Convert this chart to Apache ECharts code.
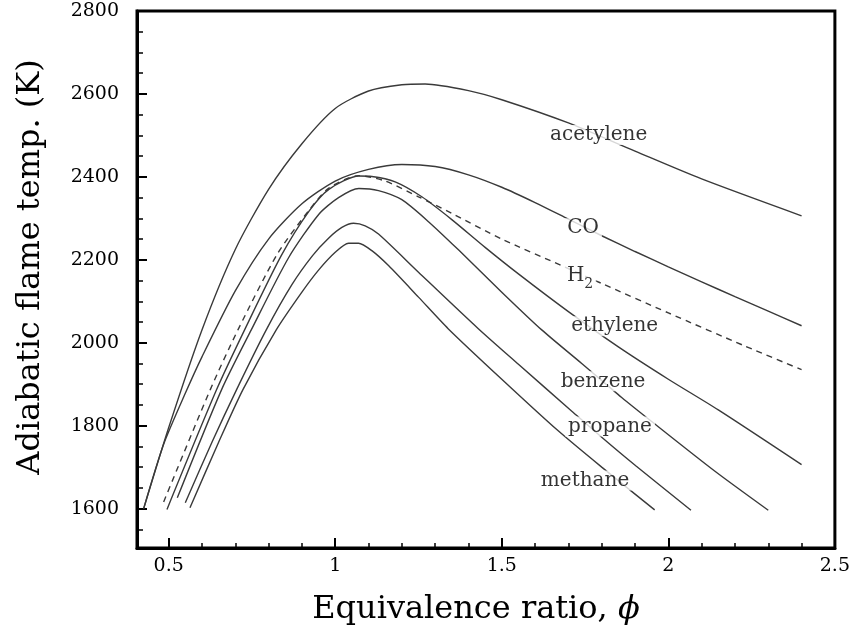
<!DOCTYPE html>
<html>
<head>
<meta charset="utf-8">
<script src="https://cdn.jsdelivr.net/npm/echarts@6/dist/echarts.min.js"></script>
<style>html,body{margin:0;padding:0;background:#fff;}#c{width:853px;height:633px;}</style>
</head>
<body>
<div id="c"></div>
<script>
// ---- data (equivalence ratio phi, adiabatic flame temperature K) ----
const acetylenePhi = [0.425, 0.5, 0.6, 0.7, 0.8, 0.9, 1.0, 1.1, 1.2, 1.27, 1.4, 1.5, 1.7, 1.9, 2.1, 2.4];
const acetyleneT   = [1600, 1795, 2031, 2225, 2370, 2480, 2565, 2607, 2622, 2624, 2608, 2586, 2530, 2462, 2395, 2306];

const coPhi = [0.425, 0.485, 0.55, 0.6, 0.7, 0.8, 0.9, 1.0, 1.1, 1.2, 1.3, 1.4, 1.5, 1.6, 1.7, 1.8, 1.9, 2.0, 2.1, 2.2, 2.3, 2.4];
const coT   = [1600, 1755, 1878, 1966, 2125, 2250, 2335, 2390, 2418, 2430, 2425, 2405, 2375, 2338, 2298, 2258, 2220, 2183, 2147, 2111, 2076, 2041];

const h2Phi = [0.485, 0.625, 0.708, 0.827, 0.922, 0.981, 1.070, 1.150, 1.250, 1.350, 1.500, 1.680, 1.800, 2.000, 2.230, 2.400];
const h2T   = [1616, 1887, 2031, 2215, 2320, 2373, 2403, 2390, 2352, 2312, 2250, 2186, 2143, 2072, 1992, 1935];

const ethylenePhi = [0.495, 0.644, 0.728, 0.838, 0.922, 0.981, 1.071, 1.110, 1.180, 1.260, 1.350, 1.450, 1.550, 1.700, 1.850, 2.000, 2.150, 2.400];
const ethyleneT   = [1598, 1887, 2031, 2210, 2318, 2370, 2402, 2401, 2388, 2352, 2297, 2230, 2166, 2075, 1990, 1912, 1838, 1706];

const benzenePhi = [0.526, 0.659, 0.748, 0.860, 0.951, 1.010, 1.071, 1.130, 1.200, 1.280, 1.370, 1.500, 1.620, 1.740, 1.860, 1.950, 2.140, 2.300];
const benzeneT   = [1626, 1887, 2031, 2205, 2310, 2350, 2372, 2367, 2345, 2292, 2224, 2122, 2031, 1950, 1868, 1810, 1690, 1596];

const propanePhi = [0.550, 0.630, 0.704, 0.793, 0.870, 0.932, 0.980, 1.020, 1.055, 1.090, 1.130, 1.250, 1.428, 1.550, 1.706, 1.800, 1.904, 2.068];
const propaneT   = [1614, 1760, 1887, 2031, 2140, 2210, 2252, 2278, 2288, 2282, 2262, 2170, 2035, 1948, 1838, 1772, 1702, 1596];

const methanePhi = [0.564, 0.650, 0.723, 0.823, 0.900, 0.950, 1.000, 1.040, 1.070, 1.110, 1.160, 1.250, 1.339, 1.500, 1.666, 1.800, 1.959];
const methaneT   = [1602, 1760, 1887, 2031, 2122, 2175, 2218, 2240, 2240, 2222, 2186, 2110, 2034, 1912, 1790, 1700, 1597];

const curveNames = ['acetylene', 'CO', 'H2', 'ethylene', 'benzene', 'propane', 'methane'];

// ---- axis ticks ----
const xMajorTicks = [0.5, 1, 1.5, 2, 2.5];
const xMinorTicks = [0.5, 0.6, 0.7, 0.8, 0.9, 1.0, 1.1, 1.2, 1.3, 1.4, 1.5, 1.6, 1.7, 1.8, 1.9, 2.0, 2.1, 2.2, 2.3, 2.4, 2.5];
const yMajorTicks = [1600, 1800, 2000, 2200, 2400, 2600, 2800];
const yMinorTicks = [1550, 1600, 1650, 1700, 1750, 1800, 1850, 1900, 1950, 2000, 2050, 2100, 2150, 2200, 2250, 2300, 2350, 2400, 2450, 2500, 2550, 2600, 2650, 2700, 2750, 2800];

// ---- layout: label anchors (data coordinates) ----
const labelAnchors = {
  acetylene: [1.791, 2501],
  CO: [1.744, 2276],
  H2: [1.735, 2140],
  ethylene: [1.839, 2040],
  benzene: [1.804, 1907],
  propane: [1.825, 1798],
  methane: [1.750, 1668]
};

const zip = (xs, ys) => xs.map((x, i) => [x, ys[i]]);
const FONT = '"DejaVu Serif", "Liberation Serif", serif';
const LINE = '#3a3a3a';
const TEXT = '#000';

function curve(name, xs, ys, dashed) {
  return {
    name: name, type: 'line', data: zip(xs, ys),
    showSymbol: false, smooth: 0.25,
    lineStyle: { color: LINE, width: 1.4, type: dashed ? [6, 5] : 'solid' },
    silent: true, z: 2
  };
}

const labelData = curveNames.map(n => ({ name: n, value: labelAnchors[n] }));

const option = {
  animation: false,
  backgroundColor: '#fff',
  grid: { left: 137, right: 13, top: 11, bottom: 85, show: true, borderColor: '#000', borderWidth: 3, backgroundColor: 'transparent' },
  xAxis: [{
    type: 'value', min: 0.405, max: 2.5,
    axisLine: { show: true, lineStyle: { color: '#000', width: 3 } },
    axisTick: { show: true, inside: true, length: 10, customValues: xMajorTicks, lineStyle: { color: '#000', width: 2 } },
    axisLabel: { customValues: xMajorTicks, color: TEXT, fontFamily: FONT, fontSize: 19, margin: 9, formatter: v => String(v) },
    splitLine: { show: false }
  }, {
    type: 'value', min: 0.405, max: 2.5, position: 'bottom',
    axisLine: { show: false },
    axisTick: { show: true, inside: true, length: 5, customValues: xMinorTicks, lineStyle: { color: '#000', width: 1.5 } },
    axisLabel: { show: false }, splitLine: { show: false }
  }],
  yAxis: [{
    type: 'value', min: 1505, max: 2800,
    axisLine: { show: true, lineStyle: { color: '#000', width: 3 } },
    axisTick: { show: true, inside: true, length: 10, customValues: yMajorTicks, lineStyle: { color: '#000', width: 2 } },
    axisLabel: { customValues: yMajorTicks, color: TEXT, fontFamily: FONT, fontSize: 19, margin: 18, formatter: v => String(v) },
    splitLine: { show: false }
  }, {
    type: 'value', min: 1505, max: 2800, position: 'left',
    axisLine: { show: false },
    axisTick: { show: true, inside: true, length: 6, customValues: yMinorTicks, lineStyle: { color: '#000', width: 1.5 } },
    axisLabel: { show: false }, splitLine: { show: false }
  }],
  series: [
    curve('acetylene', acetylenePhi, acetyleneT, false),
    curve('CO', coPhi, coT, false),
    curve('H2', h2Phi, h2T, true),
    curve('ethylene', ethylenePhi, ethyleneT, false),
    curve('benzene', benzenePhi, benzeneT, false),
    curve('propane', propanePhi, propaneT, false),
    curve('methane', methanePhi, methaneT, false),
    {
      name: 'labels', type: 'scatter', data: labelData, symbolSize: 1, z: 10,
      itemStyle: { color: 'rgba(0,0,0,0)' }, silent: true,
      label: {
        show: true, position: 'inside', color: TEXT, fontFamily: FONT, fontSize: 20,
        backgroundColor: '#fff', padding: [0, 3],
        formatter: p => p.name === 'H2' ? '{h|H}{s|2}' : p.name,
        rich: {
          h: { fontFamily: FONT, fontSize: 20, color: TEXT, lineHeight: 22, verticalAlign: 'top' },
          s: { fontFamily: FONT, fontSize: 14, color: TEXT, lineHeight: 38 }
        }
      }
    }
  ],
  graphic: [
    {
      type: 'text', x: 31, y: 267, rotation: Math.PI / 2, silent: true,
      style: { text: 'Adiabatic flame temp. (K)', font: '32px ' + FONT, fill: TEXT, align: 'center', verticalAlign: 'middle' }
    },
    {
      type: 'text', x: 476, y: 610, silent: true,
      style: {
        text: '{a|Equivalence ratio, }{b|\u03D5}', align: 'center', verticalAlign: 'middle',
        rich: {
          a: { fontFamily: FONT, fontSize: 32, fill: TEXT },
          b: { fontFamily: FONT, fontSize: 32, fontStyle: 'italic', fill: TEXT }
        }
      }
    }
  ]
};

const chart = echarts.init(document.getElementById('c'), null, { renderer: 'canvas' });
chart.setOption(option);
</script>
</body>
</html>
